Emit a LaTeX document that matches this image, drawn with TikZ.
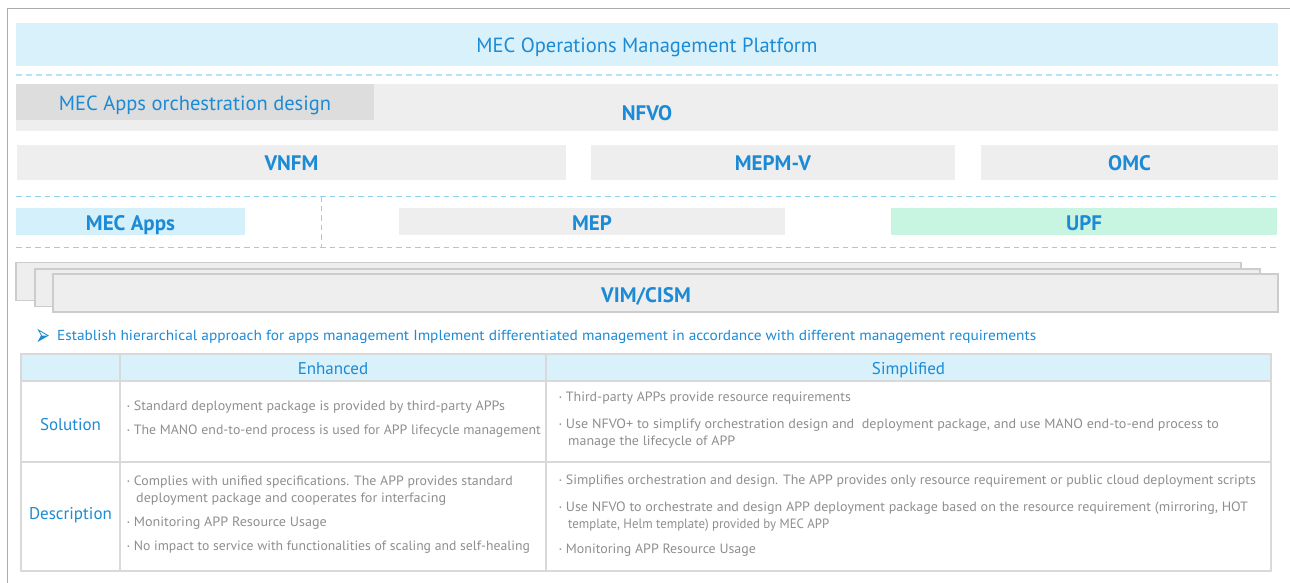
\documentclass[tikz,border=0pt]{standalone}
\usepackage{fontspec}
\usepackage{graphicx}
\setmainfont{PT Sans}

\definecolor{mecblue}{HTML}{1C8AD4}
\definecolor{topfill}{HTML}{D9F1FA}
\definecolor{appsfill}{HTML}{D3F0FB}
\definecolor{greyfill}{HTML}{EEEEEE}
\definecolor{darkfill}{HTML}{DDDDDD}
\definecolor{upffill}{HTML}{C8F5E2}
\definecolor{dashtop}{HTML}{B5E4F6}
\definecolor{dashlow}{HTML}{8ED2F0}
\definecolor{framegrey}{HTML}{ABABAB}
\definecolor{stackline}{HTML}{CCCCCC}
\definecolor{gridline}{HTML}{D9D9D9}
\definecolor{bodytext}{HTML}{8E8E8E}

% squeeze a line of text to a given width, keeping its height
\newcommand\fitto[2]{\resizebox{#1pt}{\height}{#2}}
\newcommand\dotb{\raisebox{2.2pt}{\fontsize{6}{6}\selectfont\textbullet}\hspace{4pt}}

\tikzset{
  lane/.style={draw=none, inner sep=0pt, outer sep=0pt, anchor=north west},
  stackbox/.style={lane, draw=stackline, line width=1.2pt, fill=greyfill},
  boldlbl/.style={text=mecblue, font=\bfseries\fontsize{21}{24}\selectfont, text height=17pt, text depth=0pt},
  plainlbl/.style={text=mecblue, font=\fontsize{20.5}{24}\selectfont},
  dashtopline/.style={draw=dashtop, line width=2pt, dash pattern=on 6pt off 4pt},
  dashlowline/.style={draw=dashlow, line width=1pt, dash pattern=on 5.5pt off 4pt},
  cell/.style={lane, draw=gridline, line width=1.6pt},
  headtxt/.style={text=mecblue, font=\fontsize{17}{19}\selectfont, text height=13pt, text depth=0pt},
  rowtxt/.style={text=mecblue, font=\fontsize{17}{19}\selectfont},
  bodyline/.style={anchor=base west, inner sep=0pt, text=bodytext, font=\fontsize{13.5}{16}\selectfont},
}

\begin{document}
\begin{tikzpicture}[x=1pt,y=-1pt]
\useasboundingbox (0,0) rectangle (1290,583);

% outer frame (left and top edges)
\draw[framegrey, line width=1.2pt] (7.5,583) -- (7.5,8.5) -- (1290,8.5);

% operations platform
\node[lane, fill=topfill, minimum width=1262pt, minimum height=43pt] (omp) at (16,23) {};
\node[plainlbl] (omplbl) at (647,47.5) {MEC Operations Management Platform};
\draw[dashtopline] (16,75) -- (1278,75);

% NFVO layer
\node[lane, fill=greyfill, minimum width=1262pt, minimum height=47pt] (nfvobox) at (16,84) {};
\node[lane, fill=darkfill, minimum width=358pt, minimum height=36pt] (design) at (16,84) {};
\node[plainlbl] (designlbl) at (195,105) {MEC Apps orchestration design};
\node[boldlbl] (nfvo) at (647,112.5) {NFVO};

% managers
\node[lane, fill=greyfill, minimum width=549pt, minimum height=35pt, boldlbl] (vnfm) at (17,145) {VNFM};
\node[lane, fill=greyfill, minimum width=364pt, minimum height=35pt, boldlbl] (mepmv) at (591,145) {MEPM-V};
\node[lane, fill=greyfill, minimum width=297pt, minimum height=35pt, boldlbl] (omc) at (981,145) {OMC};

% edge layer
\draw[dashlowline] (16,196) -- (1278,196);
\draw[dashlowline] (16,247) -- (1278,247);
\draw[dashlowline] (321.5,196) -- (321.5,247);
\node[lane, fill=appsfill, minimum width=229pt, minimum height=27pt, boldlbl] (apps) at (16,208) {MEC Apps};
\node[lane, fill=greyfill, minimum width=386pt, minimum height=27pt, boldlbl] (mep) at (399,208) {MEP};
\node[lane, fill=upffill, minimum width=386pt, minimum height=27pt, boldlbl] (upf) at (891,208) {UPF};

% infrastructure stack
\node[stackbox, minimum width=1225pt, minimum height=38pt] (vimc) at (16,262.7) {};
\node[stackbox, minimum width=1225pt, minimum height=37.7pt] (vimb) at (35,269) {};
\node[stackbox, minimum width=1225pt, minimum height=38pt] (vim) at (53,274) {};
\node[boldlbl] (vimlbl) at (646,293.5) {VIM/CISM};

% summary line with its arrowhead marker
\fill[mecblue] (38.5,341) -- (48,335.5) -- (41.5,335.5) -- cycle;
\draw[mecblue, line width=0.8pt, line join=miter] (38.5,330) -- (48,335.5) -- (38.5,341) -- (41.5,335.5) -- cycle;
\node[anchor=west, inner sep=0pt, text=mecblue, font=\fontsize{14.5}{17}\selectfont] (summary) at (57,337)
  {\fitto{979}{Establish hierarchical approach for apps management Implement differentiated management in accordance with different management requirements}};

% comparison table
\node[cell, fill=topfill, minimum width=99pt, minimum height=27pt] (hcorner) at (21,354) {};
\node[cell, fill=topfill, minimum width=426pt, minimum height=27pt, headtxt] (henh) at (120,354) {Enhanced};
\node[cell, fill=topfill, minimum width=725pt, minimum height=27pt, headtxt] (hsim) at (546,354) {Simplified};
\node[cell, minimum width=99pt, minimum height=81pt] (rsol) at (21,381) {};
\node[cell, minimum width=426pt, minimum height=81pt] (solenh) at (120,381) {};
\node[cell, minimum width=725pt, minimum height=81pt] (solsim) at (546,381) {};
\node[cell, minimum width=99pt, minimum height=109pt] (rdes) at (21,462) {};
\node[cell, minimum width=426pt, minimum height=109pt] (desenh) at (120,462) {};
\node[cell, minimum width=725pt, minimum height=109pt] (dessim) at (546,462) {};
\node[rowtxt] (rsollbl) at (70.5,424.5) {Solution};
\node[rowtxt] (rdeslbl) at (70.5,515.5) {Description};

% Solution / Enhanced
\node[bodyline] (se1) at (127,410.5) {\dotb\fitto{371}{Standard deployment package is provided by third-party APPs}};
\node[bodyline] (se2) at (127,434.5) {\dotb\fitto{407}{The MANO end-to-end process is used for APP lifecycle management}};
% Solution / Simplified
\node[bodyline] (ss1) at (559,401.5) {\dotb\fitto{285}{Third-party APPs provide resource requirements}};
\node[bodyline] (ss2) at (559,428.5) {\dotb\fitto{653}{Use NFVO+ to simplify orchestration design and \ deployment package, and use MANO end-to-end process to}};
\node[bodyline] (ss3) at (568,445.5) {\fitto{167}{manage the lifecycle of APP}};
% Description / Enhanced
\node[bodyline] (de1) at (127,485.5) {\dotb\fitto{379}{Complies with unified specifications. The APP provides standard}};
\node[bodyline] (de2) at (136,502.5) {\fitto{310}{deployment package and cooperates for interfacing}};
\node[bodyline] (de3) at (127,526.5) {\dotb\fitto{193}{Monitoring APP Resource Usage}};
\node[bodyline] (de4) at (127,550.5) {\dotb\fitto{396}{No impact to service with functionalities of scaling and self-healing}};
% Description / Simplified
\node[bodyline] (ds1) at (559,484.5) {\dotb\fitto{690}{Simplifies orchestration and design. The APP provides only resource requirement or public cloud deployment scripts}};
\node[bodyline] (ds2) at (559,511.5) {\dotb\fitto{682}{Use NFVO to orchestrate and design APP deployment package based on the resource requirement (mirroring, HOT}};
\node[bodyline] (ds3) at (568,528.5) {\fitto{261}{template, Helm template) provided by MEC APP}};
\node[bodyline] (ds4) at (559,553.5) {\dotb\fitto{190}{Monitoring APP Resource Usage}};
\end{tikzpicture}
\end{document}
